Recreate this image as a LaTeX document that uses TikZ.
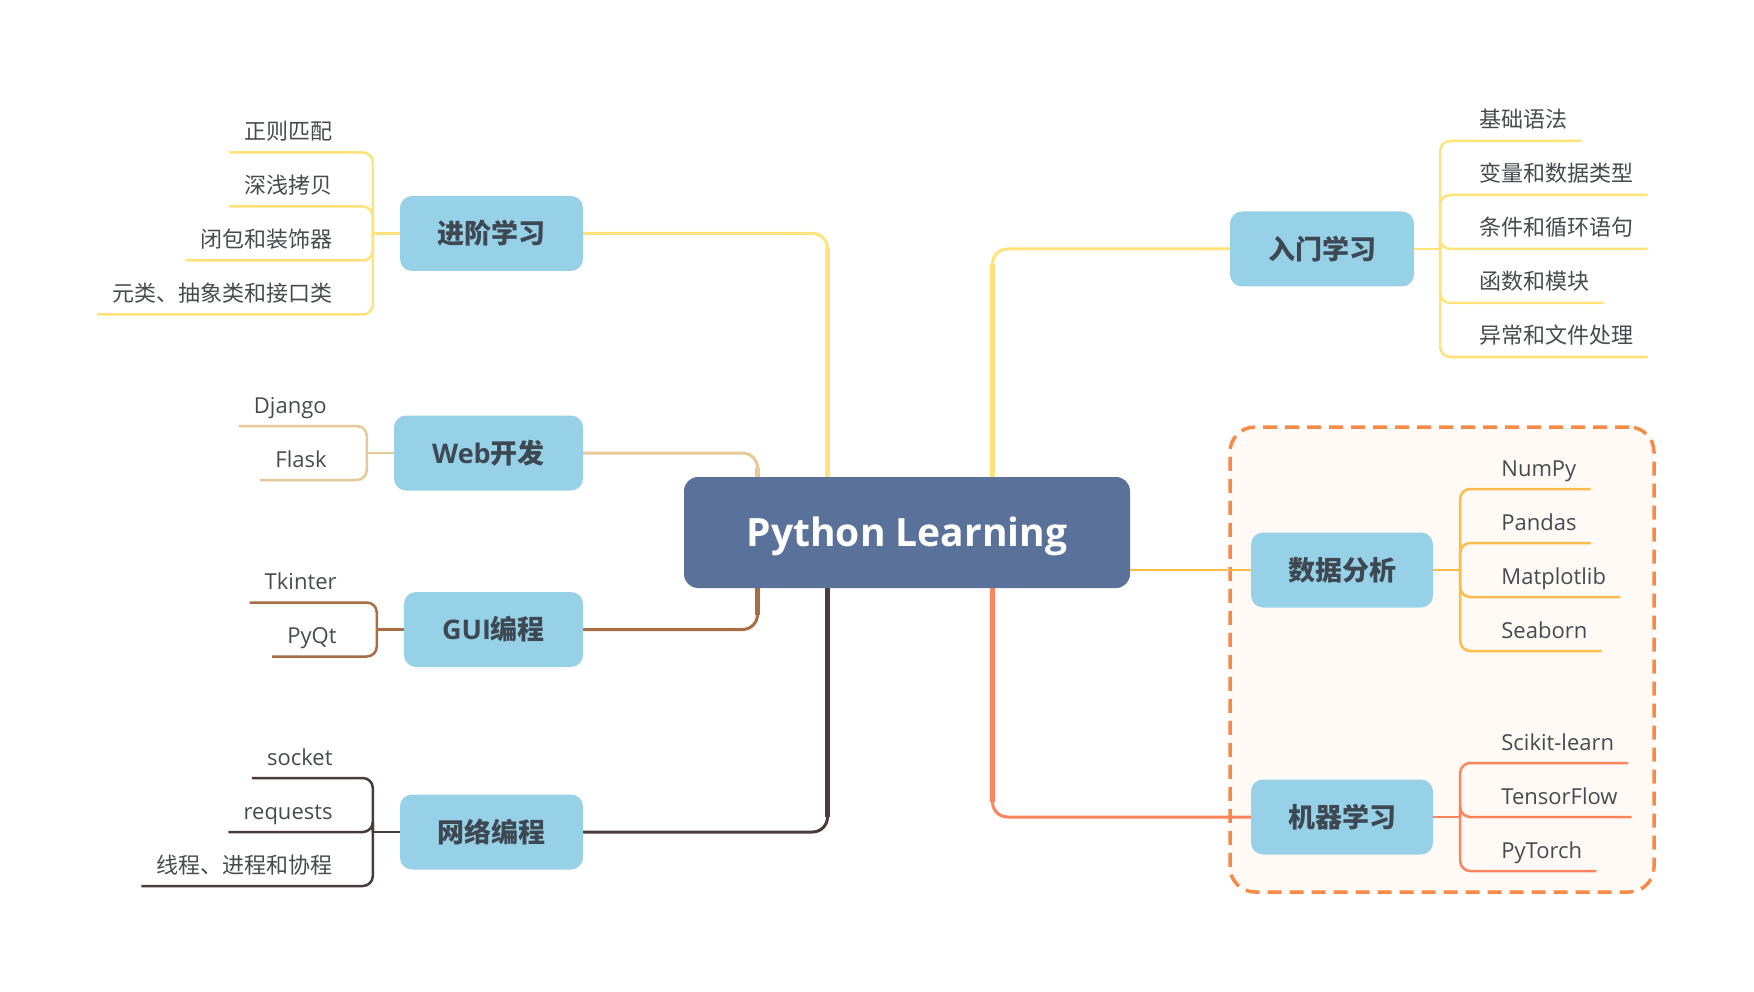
\documentclass[tikz,border=0pt]{standalone}
\usepackage{fontspec}
\setmainfont{Open Sans}
\newfontfamily\cjkfont{Noto Sans CJK SC}
\usetikzlibrary{calc}
\pgfdeclarelayer{bg}
\pgfsetlayers{bg,main}
\definecolor{centerblue}{HTML}{5A7299}
\definecolor{boxblue}{HTML}{97D1E7}
\definecolor{boxtext}{HTML}{3D4852}
\definecolor{leaftext}{HTML}{474B50}
\definecolor{cyellow}{HTML}{FFE37A}
\definecolor{ctan}{HTML}{E6C899}
\definecolor{cbrown}{HTML}{A86D42}
\definecolor{cdark}{HTML}{4A3A3B}
\definecolor{corange}{HTML}{FDBB4C}
\definecolor{ccoral}{HTML}{FF845E}
\definecolor{cdash}{HTML}{F88A48}
\definecolor{dashfill}{HTML}{FFFAF6}
\tikzset{
  central/.style={fill=centerblue, rounded corners=14pt, minimum width=446pt, minimum height=111pt,
    text=white, font=\fontsize{39}{44}\selectfont\bfseries, inner sep=0pt,
    text height=28pt, text depth=0pt},
  branch/.style={fill=boxblue, rounded corners=12pt, minimum height=75pt, text=boxtext,
    font=\fontsize{27}{32}\selectfont\bfseries, inner sep=0pt},
  leaf/.style={text=leaftext, font=\fontsize{22}{26}\selectfont, inner sep=0pt,
    text height=19pt, text depth=3pt},
  trunk/.style={line width=5pt},
  limb/.style={line width=3pt, rounded corners=15pt},
  twig/.style={line width=2.5pt, rounded corners=10pt},
  group/.style={draw=cdash, fill=dashfill, line width=3.5pt, dash pattern=on 14pt off 8pt,
    rounded corners=25pt, minimum width=424pt, minimum height=465pt, inner sep=0pt},
}
\begin{document}
\begin{tikzpicture}[x=1pt,y=-1pt]
\useasboundingbox (0,0) rectangle (1754,992);

% central node
\node[central] (c) at (907,532.5) {Python Learning};

% branch nodes
\node[branch, minimum width=183pt] (b1) at (491.5,233.5) {\cjkfont 进阶学习};
\node[branch, minimum width=189pt] (b2) at (488.5,453) {Web{\cjkfont 开发}};
\node[branch, minimum width=179pt] (b3) at (493.5,629.5) {GUI{\cjkfont 编程}};
\node[branch, minimum width=183pt] (b4) at (491.5,832) {\cjkfont 网络编程};
\node[branch, minimum width=184pt] (b5) at (1322,249) {\cjkfont 入门学习};
\node[branch, minimum width=182pt] (b6) at (1342,570) {\cjkfont 数据分析};
\node[branch, minimum width=182pt] (b7) at (1342,817) {\cjkfont 机器学习};

\begin{pgfonlayer}{bg}
\fill[white] (0,0) rectangle (1754,992);
% dashed group
\node[group] (grp) at (1442,659.5) {};

% trunk start points under the central node
\coordinate (t1) at ($(c.center)+(-79.5,0)$);
\coordinate (t2) at ($(c.center)+(-149.5,0)$);
\coordinate (t5) at ($(c.center)+(85.5,0)$);
\coordinate (t6) at ($(c.east)+(-20,37.5)$);

% main connectors
\draw[limb, cyellow] (t1) |- (b1.east);
\draw[trunk, cyellow] (t1) -- ($(t1 |- b1.east)+(0,15)$);
\draw[limb, ctan] (t2) |- (b2.east);
\draw[trunk, ctan] (t2) -- ($(t2 |- b2.east)+(0,15)$);
\draw[limb, cbrown] (t2) |- (b3.east);
\draw[trunk, cbrown] (t2) -- ($(t2 |- b3.east)+(0,-15)$);
\draw[limb, cdark] (t1) |- (b4.east);
\draw[trunk, cdark] (t1) -- ($(t1 |- b4.east)+(0,-15)$);
\draw[limb, cyellow] (t5) |- (b5.west);
\draw[trunk, cyellow] (t5) -- ($(t5 |- b5.west)+(0,15)$);
\draw[limb, ccoral] (t5) |- (b7.west);
\draw[trunk, ccoral] (t5) -- ($(t5 |- b7.west)+(0,-15)$);
\draw[line width=2.5pt, corange] (t6) -- (b6.west);
\end{pgfonlayer}

% ---------- 进阶学习 leaves ----------
\coordinate (j1) at ($(b1.west)+(-27,0)$);
\draw[twig, cyellow] (b1.west) -- (j1);
\node[leaf, anchor=east] (l11) at ($(j1)+(-40,-102)$) {\cjkfont 正则匹配};
\node[leaf, anchor=east] (l12) at ($(j1)+(-40,-48)$) {\cjkfont 深浅拷贝};
\node[leaf, anchor=east] (l13) at ($(j1)+(-40,6)$) {\cjkfont 闭包和装饰器};
\node[leaf, anchor=east] (l14) at ($(j1)+(-40,60)$) {\cjkfont 元类、抽象类和接口类};
\foreach \n in {l11,l12,l13,l14}
  \draw[twig, cyellow] (j1) |- ($(\n.west)+(-15,21)$);

% ---------- Web开发 leaves ----------
\coordinate (j2) at ($(b2.west)+(-27,0)$);
\draw[twig, ctan] (b2.west) -- (j2);
\node[leaf, anchor=east] (l21) at ($(j2)+(-40,-48)$) {Django};
\node[leaf, anchor=east] (l22) at ($(j2)+(-40,6)$) {Flask};
\foreach \n in {l21,l22}
  \draw[twig, ctan] (j2) |- ($(\n.west)+(-15,21)$);

% ---------- GUI编程 leaves ----------
\coordinate (j3) at ($(b3.west)+(-27,0)$);
\draw[twig, cbrown] (b3.west) -- (j3);
\node[leaf, anchor=east] (l31) at ($(j3)+(-40,-48)$) {Tkinter};
\node[leaf, anchor=east] (l32) at ($(j3)+(-40,6)$) {PyQt};
\foreach \n in {l31,l32}
  \draw[twig, cbrown] (j3) |- ($(\n.west)+(-15,21)$);

% ---------- 网络编程 leaves ----------
\coordinate (j4) at ($(b4.west)+(-27,0)$);
\draw[twig, cdark] (b4.west) -- (j4);
\node[leaf, anchor=east] (l41) at ($(j4)+(-40,-75)$) {socket};
\node[leaf, anchor=east] (l42) at ($(j4)+(-40,-21)$) {requests};
\node[leaf, anchor=east] (l43) at ($(j4)+(-40,33)$) {\cjkfont 线程、进程和协程};
\foreach \n in {l41,l42,l43}
  \draw[twig, cdark] (j4) |- ($(\n.west)+(-15,21)$);

% ---------- 入门学习 leaves ----------
\coordinate (j5) at ($(b5.east)+(26,0)$);
\draw[twig, cyellow] (b5.east) -- (j5);
\node[leaf, anchor=west] (l51) at ($(j5)+(39,-129)$) {\cjkfont 基础语法};
\node[leaf, anchor=west] (l52) at ($(j5)+(39,-75)$) {\cjkfont 变量和数据类型};
\node[leaf, anchor=west] (l53) at ($(j5)+(39,-21)$) {\cjkfont 条件和循环语句};
\node[leaf, anchor=west] (l54) at ($(j5)+(39,33)$) {\cjkfont 函数和模块};
\node[leaf, anchor=west] (l55) at ($(j5)+(39,87)$) {\cjkfont 异常和文件处理};
\foreach \n in {l51,l52,l53,l54,l55}
  \draw[twig, cyellow] (j5) |- ($(\n.east)+(14,21)$);

% ---------- 数据分析 leaves ----------
\coordinate (j6) at ($(b6.east)+(27,0)$);
\draw[twig, corange] (b6.east) -- (j6);
\node[leaf, anchor=west] (l61) at ($(j6)+(41,-102)$) {NumPy};
\node[leaf, anchor=west] (l62) at ($(j6)+(41,-48)$) {Pandas};
\node[leaf, anchor=west] (l63) at ($(j6)+(41,6)$) {Matplotlib};
\node[leaf, anchor=west] (l64) at ($(j6)+(41,60)$) {Seaborn};
\foreach \n in {l61,l62,l63,l64}
  \draw[twig, corange] (j6) |- ($(\n.east)+(14,21)$);

% ---------- 机器学习 leaves ----------
\coordinate (j7) at ($(b7.east)+(27,0)$);
\draw[twig, ccoral] (b7.east) -- (j7);
\node[leaf, anchor=west] (l71) at ($(j7)+(41,-75)$) {Scikit-learn};
\node[leaf, anchor=west] (l72) at ($(j7)+(41,-21)$) {TensorFlow};
\node[leaf, anchor=west] (l73) at ($(j7)+(41,33)$) {PyTorch};
\foreach \n in {l71,l72,l73}
  \draw[twig, ccoral] (j7) |- ($(\n.east)+(14,21)$);
\end{tikzpicture}
\end{document}
